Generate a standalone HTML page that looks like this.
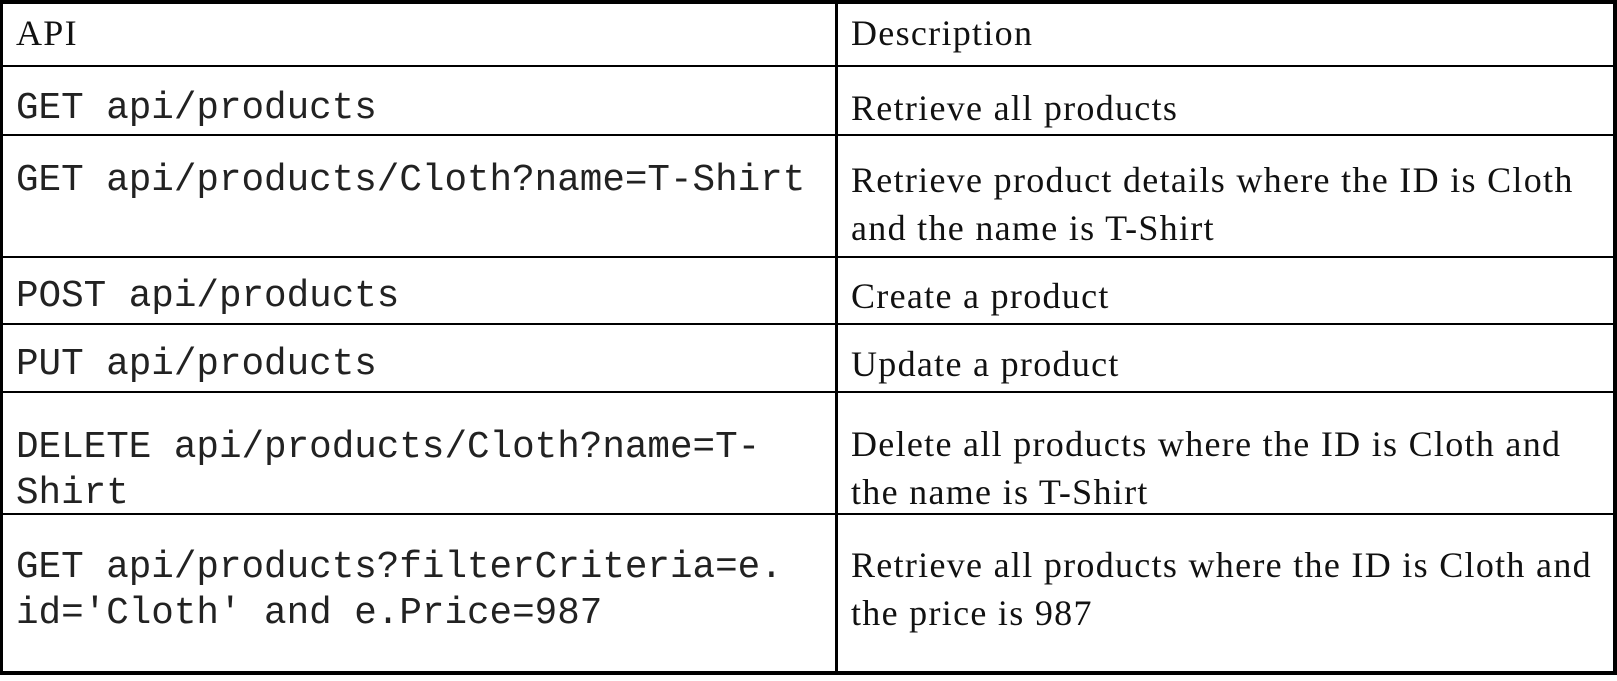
<!DOCTYPE html>
<html><head><meta charset="utf-8"><style>
body{margin:0;width:1617px;height:681px;background:#fff;position:relative;overflow:hidden}
.l{position:absolute;background:#000}
.m{position:absolute;left:16px;font-family:"Liberation Mono",monospace;font-size:37.6px;line-height:46px;color:#222;white-space:pre}
.s{position:absolute;left:851px;font-family:"Liberation Serif",serif;font-size:36px;line-height:48px;letter-spacing:1.3px;color:#111;white-space:pre}
</style></head><body>
<div class="l" style="left:0;top:0;width:1617px;height:4px"></div>
<div class="l" style="left:0;top:671px;width:1617px;height:4px"></div>
<div class="l" style="left:0;top:0;width:3px;height:675px"></div>
<div class="l" style="left:1613px;top:0;width:4px;height:675px"></div>
<div class="l" style="left:835px;top:0;width:3px;height:675px"></div>
<div class="l" style="left:0;top:65px;width:1617px;height:2px"></div>
<div class="l" style="left:0;top:134px;width:1617px;height:2px"></div>
<div class="l" style="left:0;top:256px;width:1617px;height:2px"></div>
<div class="l" style="left:0;top:323px;width:1617px;height:2px"></div>
<div class="l" style="left:0;top:391px;width:1617px;height:2px"></div>
<div class="l" style="left:0;top:513px;width:1617px;height:2px"></div>

<div class="s" style="left:16px;top:9px">API</div>
<div class="s" style="top:9px">Description</div>

<div class="m" style="top:86px">GET api/products</div>
<div class="s" style="top:84px">Retrieve all products</div>

<div class="m" style="top:158px">GET api/products/Cloth?name=T-Shirt</div>
<div class="s" style="top:156px">Retrieve product details where the ID is Cloth
and the name is T-Shirt</div>

<div class="m" style="top:274px">POST api/products</div>
<div class="s" style="top:272px">Create a product</div>

<div class="m" style="top:342px">PUT api/products</div>
<div class="s" style="top:340px">Update a product</div>

<div class="m" style="top:425px">DELETE api/products/Cloth?name=T-
Shirt</div>
<div class="s" style="top:420px">Delete all products where the ID is Cloth and
the name is T-Shirt</div>

<div class="m" style="top:545px">GET api/products?filterCriteria=e.
id='Cloth' and e.Price=987</div>
<div class="s" style="top:541px">Retrieve all products where the ID is Cloth and
the price is 987</div>
</body></html>
